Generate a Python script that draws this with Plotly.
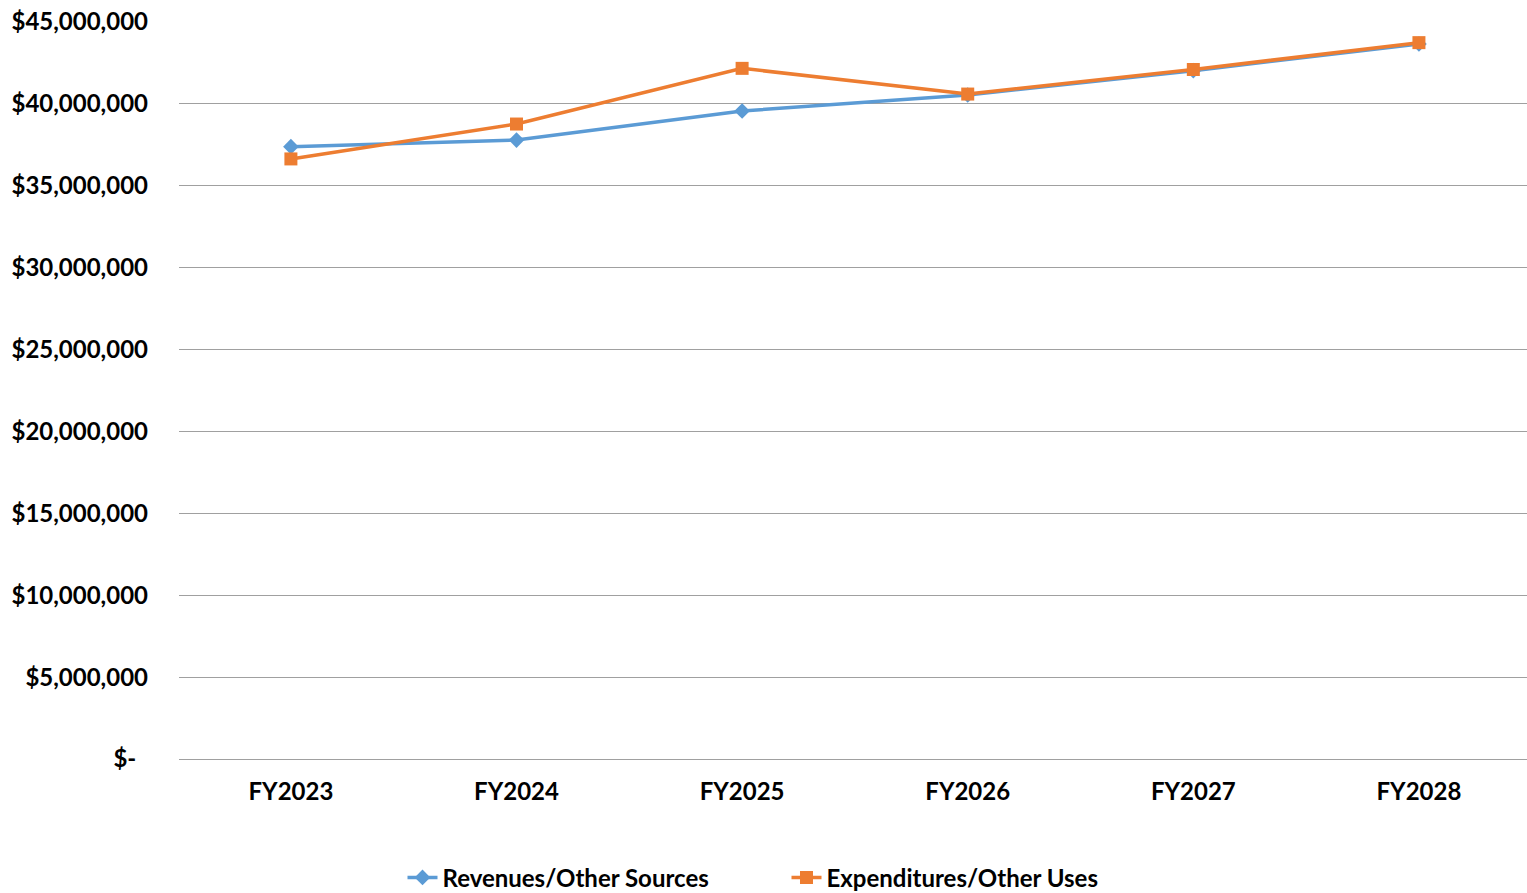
import plotly.graph_objects as go

years = ["FY2023", "FY2024", "FY2025", "FY2026", "FY2027", "FY2028"]
revenues = [37390000, 37790000, 39570000, 40540000, 42030000, 43660000]
expenditures = [36640000, 38770000, 42170000, 40600000, 42100000, 43740000]

tick_vals = [0, 5e6, 10e6, 15e6, 20e6, 25e6, 30e6, 35e6, 40e6, 45e6]
tick_text = ["$-&nbsp;&nbsp;", "$5,000,000", "$10,000,000", "$15,000,000", "$20,000,000",
             "$25,000,000", "$30,000,000", "$35,000,000", "$40,000,000", "$45,000,000"]

FONT = "Lato, Carlito, Liberation Sans, sans-serif"
GRID = "#A0A0A0"

fig = go.Figure()
fig.add_trace(go.Scatter(
    x=years, y=revenues, name="<b>Revenues/Other Sources</b>",
    mode="lines+markers",
    line=dict(color="#5B9BD5", width=3.5),
    marker=dict(symbol="diamond", size=12, color="#5B9BD5"),
))
fig.add_trace(go.Scatter(
    x=years, y=expenditures, name="<b>Expenditures/Other Uses</b>",
    mode="lines+markers",
    line=dict(color="#ED7D31", width=3.5),
    marker=dict(symbol="square", size=13, color="#ED7D31"),
))

fig.update_layout(
    width=1527, height=893,
    margin=dict(l=179, r=0, t=22, b=134, autoexpand=False),
    paper_bgcolor="white", plot_bgcolor="white",
    font=dict(family=FONT, size=24, color="#000000"),
    showlegend=True,
    legend=dict(orientation="h", x=0.1658, xanchor="left",
                yref="container", y=0.017, yanchor="middle",
                font=dict(family=FONT, size=24, color="#000000"),
                entrywidth=339, entrywidthmode="pixels", tracegroupgap=0),
    hovermode=False,
)
fig.update_xaxes(
    type="category", range=[-0.496, 5.479], showgrid=False, zeroline=False,
    showline=False, ticks="",
    tickvals=years, ticktext=[f"<b>{y}</b>" for y in years],
    tickfont=dict(family=FONT, size=24, color="#000000"),
    ticklabelstandoff=16,
)
fig.update_yaxes(
    range=[0, 45e6], showgrid=True, gridcolor=GRID, gridwidth=1.4,
    zeroline=True, zerolinecolor=GRID, zerolinewidth=1.4, showline=False, ticks="",
    tickvals=tick_vals, ticktext=[f"<b>{t}</b>" for t in tick_text],
    tickfont=dict(family=FONT, size=24, color="#000000"),
    ticklabelstandoff=30,
)

fig.write_html("out.html")
